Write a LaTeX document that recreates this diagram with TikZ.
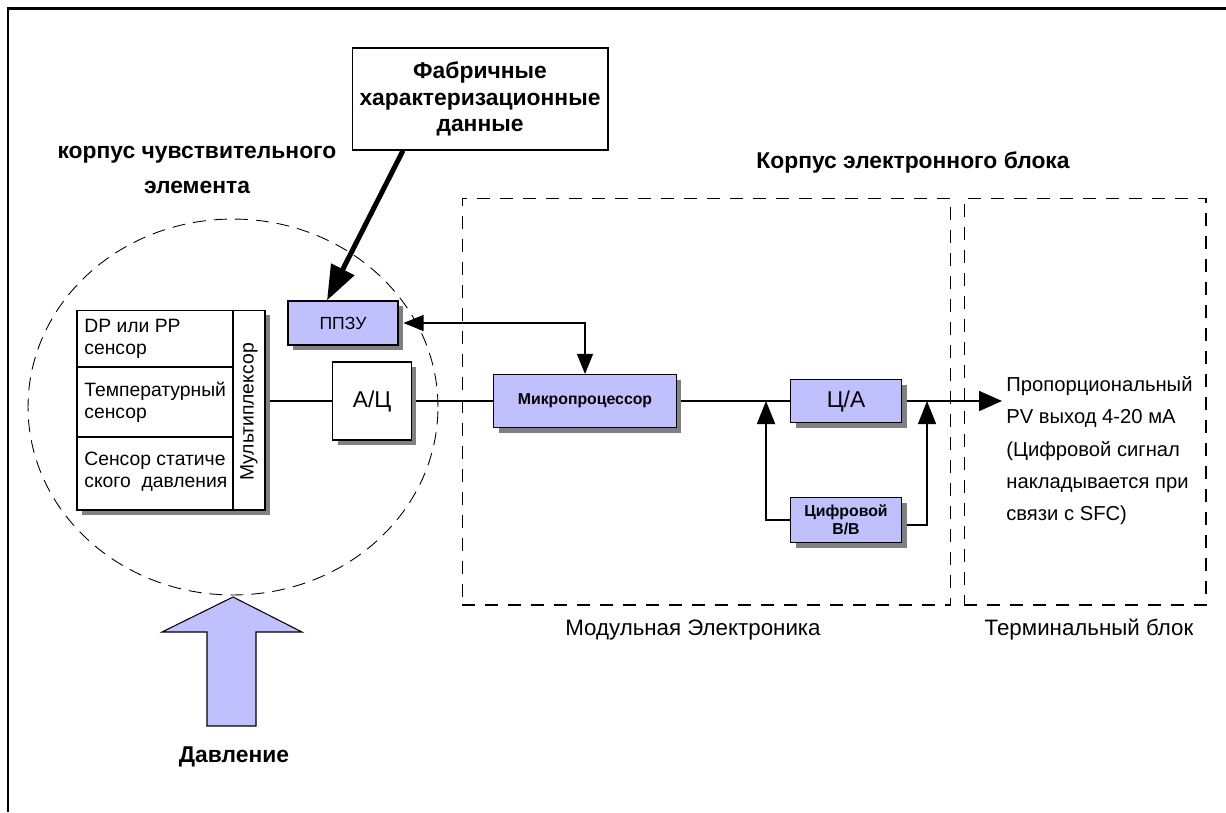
\documentclass[tikz,border=0pt]{standalone}
\usepackage{fontspec}
\setmainfont{Liberation Sans}
\usetikzlibrary{arrows.meta,shadows,backgrounds,positioning}
\definecolor{lila}{RGB}{192,192,255}
\definecolor{shade}{RGB}{128,128,128}

\begin{document}
\begin{tikzpicture}[x=0.02cm,y=-0.02cm,
  blk/.style={draw,line width=0.6pt,fill=lila,inner sep=0pt,
    drop shadow={shadow xshift=0.1cm,shadow yshift=-0.1cm,fill=shade,opacity=1}},
  wblk/.style={blk,fill=white},
  txt/.style={font=\fontsize{11}{12.5}\selectfont,align=left,inner sep=0pt},
  head/.style={font=\fontsize{13}{19.8}\selectfont\bfseries,align=center,inner sep=0pt},
  lbl/.style={font=\fontsize{12.7}{14}\selectfont,inner sep=0pt},
  zone/.style={draw,line width=0.6pt,dash pattern=on 0.26cm off 0.2cm},
  bus/.style={line width=1.1pt},
  wire/.style={line width=0.6pt},
  tip/.style={-{Triangle[length=0.46cm,width=0.36cm]}}
]
\useasboundingbox (0,0) rectangle (1226,812);
\draw[line width=0.06cm] (8,812) -- (8,8) -- (1226,8);

\draw[line width=0.5pt,dash pattern=on 0.26cm off 0.16cm] (233,407) ellipse [x radius=4.1cm,y radius=3.76cm];
\node[zone,minimum width=9.78cm,minimum height=8.14cm] (mod) at (706.5,401.5) {};
\node[zone,minimum width=4.84cm,minimum height=8.14cm] (term) at (1085,401.5) {};

\node[head] (senshead) at (197,170) {корпус чувствительного\\элемента};
\node[head] (elhead) at (913,162) {Корпус электронного блока};
\node[draw,line width=0.6pt,minimum width=5.12cm,minimum height=2.04cm,head,
  font=\fontsize{13}{15.3}\selectfont\bfseries] (fab) at (480,99) {Фабричные\\характеризационные\\данные};

\node[wblk,minimum width=3.76cm,minimum height=4cm] (sens) at (171,410) {};
\draw[bus] (233,310) -- (233,510);
\draw[bus] (77,367) -- (233,367);
\draw[bus] (77,437) -- (233,437);
\node[txt,anchor=west] (dp) at (84,339) {DP или PP\\сенсор};
\node[txt,anchor=west] (temp) at (84,402) {Температурный\\сенсор};
\node[txt,anchor=west] (stat) at (84,472) {Сенсор статиче\\ского\ \ давления};
\node[txt,rotate=90] (mux) at (249,412) {Мультиплексор};

\node[blk,minimum width=2.2cm,minimum height=0.88cm,font=\fontsize{10}{12}\selectfont] (ppzu) at (343,323) {ППЗУ};
\node[wblk,minimum width=1.58cm,minimum height=1.56cm,font=\fontsize{13}{14}\selectfont] (adc) at (372,401) {А/Ц};
\node[blk,minimum width=3.66cm,minimum height=1.06cm,font=\fontsize{9}{10}\selectfont\bfseries] (cpu) at (585,401) {Микропроцессор};
\node[blk,minimum width=2.22cm,minimum height=0.86cm,font=\fontsize{13}{14}\selectfont] (dac) at (846,401) {Ц/А};
\node[blk,minimum width=2.22cm,minimum height=0.9cm,align=center,font=\fontsize{9}{10.5}\selectfont\bfseries] (dio) at (846,520) {Цифровой\\В/В};

\coordinate (jl) at (766,401);
\coordinate (jr) at (927,401);
\coordinate (out) at (1002,401);
\node[txt,anchor=north west,font=\fontsize{11.5}{18.4}\selectfont] (outtxt) at (1006,376)
  {Пропорциональный\\PV выход 4-20 мА\\(Цифровой сигнал\\накладывается при\\связи с SFC)};

\node[lbl] (modlbl) at (693,630) {Модульная Электроника};
\node[lbl] (termlbl) at (1089,630) {Терминальный блок};

\begin{scope}[on background layer]
\draw[bus] (sens.east |- adc.west) -- (adc.west);
\draw[bus] (adc.east) -- (cpu.west);
\draw[bus] (cpu.east) -- (dac.west);
\draw[wire,{Triangle[length=0.4cm,width=0.32cm]}-{Triangle[length=0.4cm,width=0.32cm]}]
  ([xshift=0.1cm]ppzu.east) -| (cpu.north);
\draw[bus,tip] (dio.west) -| (jl);
\draw[wire,tip] ([xshift=0.1cm,yshift=-0.1cm]dio.east) -| (jr);
\draw[bus,-{Triangle[length=0.46cm,width=0.4cm]}] (dac.east) -- (out);
\end{scope}
\draw[line width=0.1cm,-{Triangle[length=0.7cm,width=0.5cm]}] ([xshift=-1.54cm]fab.south) -- ([xshift=-0.32cm]ppzu.north);

\draw[line width=0.6pt,fill=lila] (233,597) -- (302,632) -- (256,632) -- (256,726) -- (207,726) -- (207,632) -- (162,632) -- cycle;
\node[head] (press) at (234,757) {Давление};
\end{tikzpicture}
\end{document}
